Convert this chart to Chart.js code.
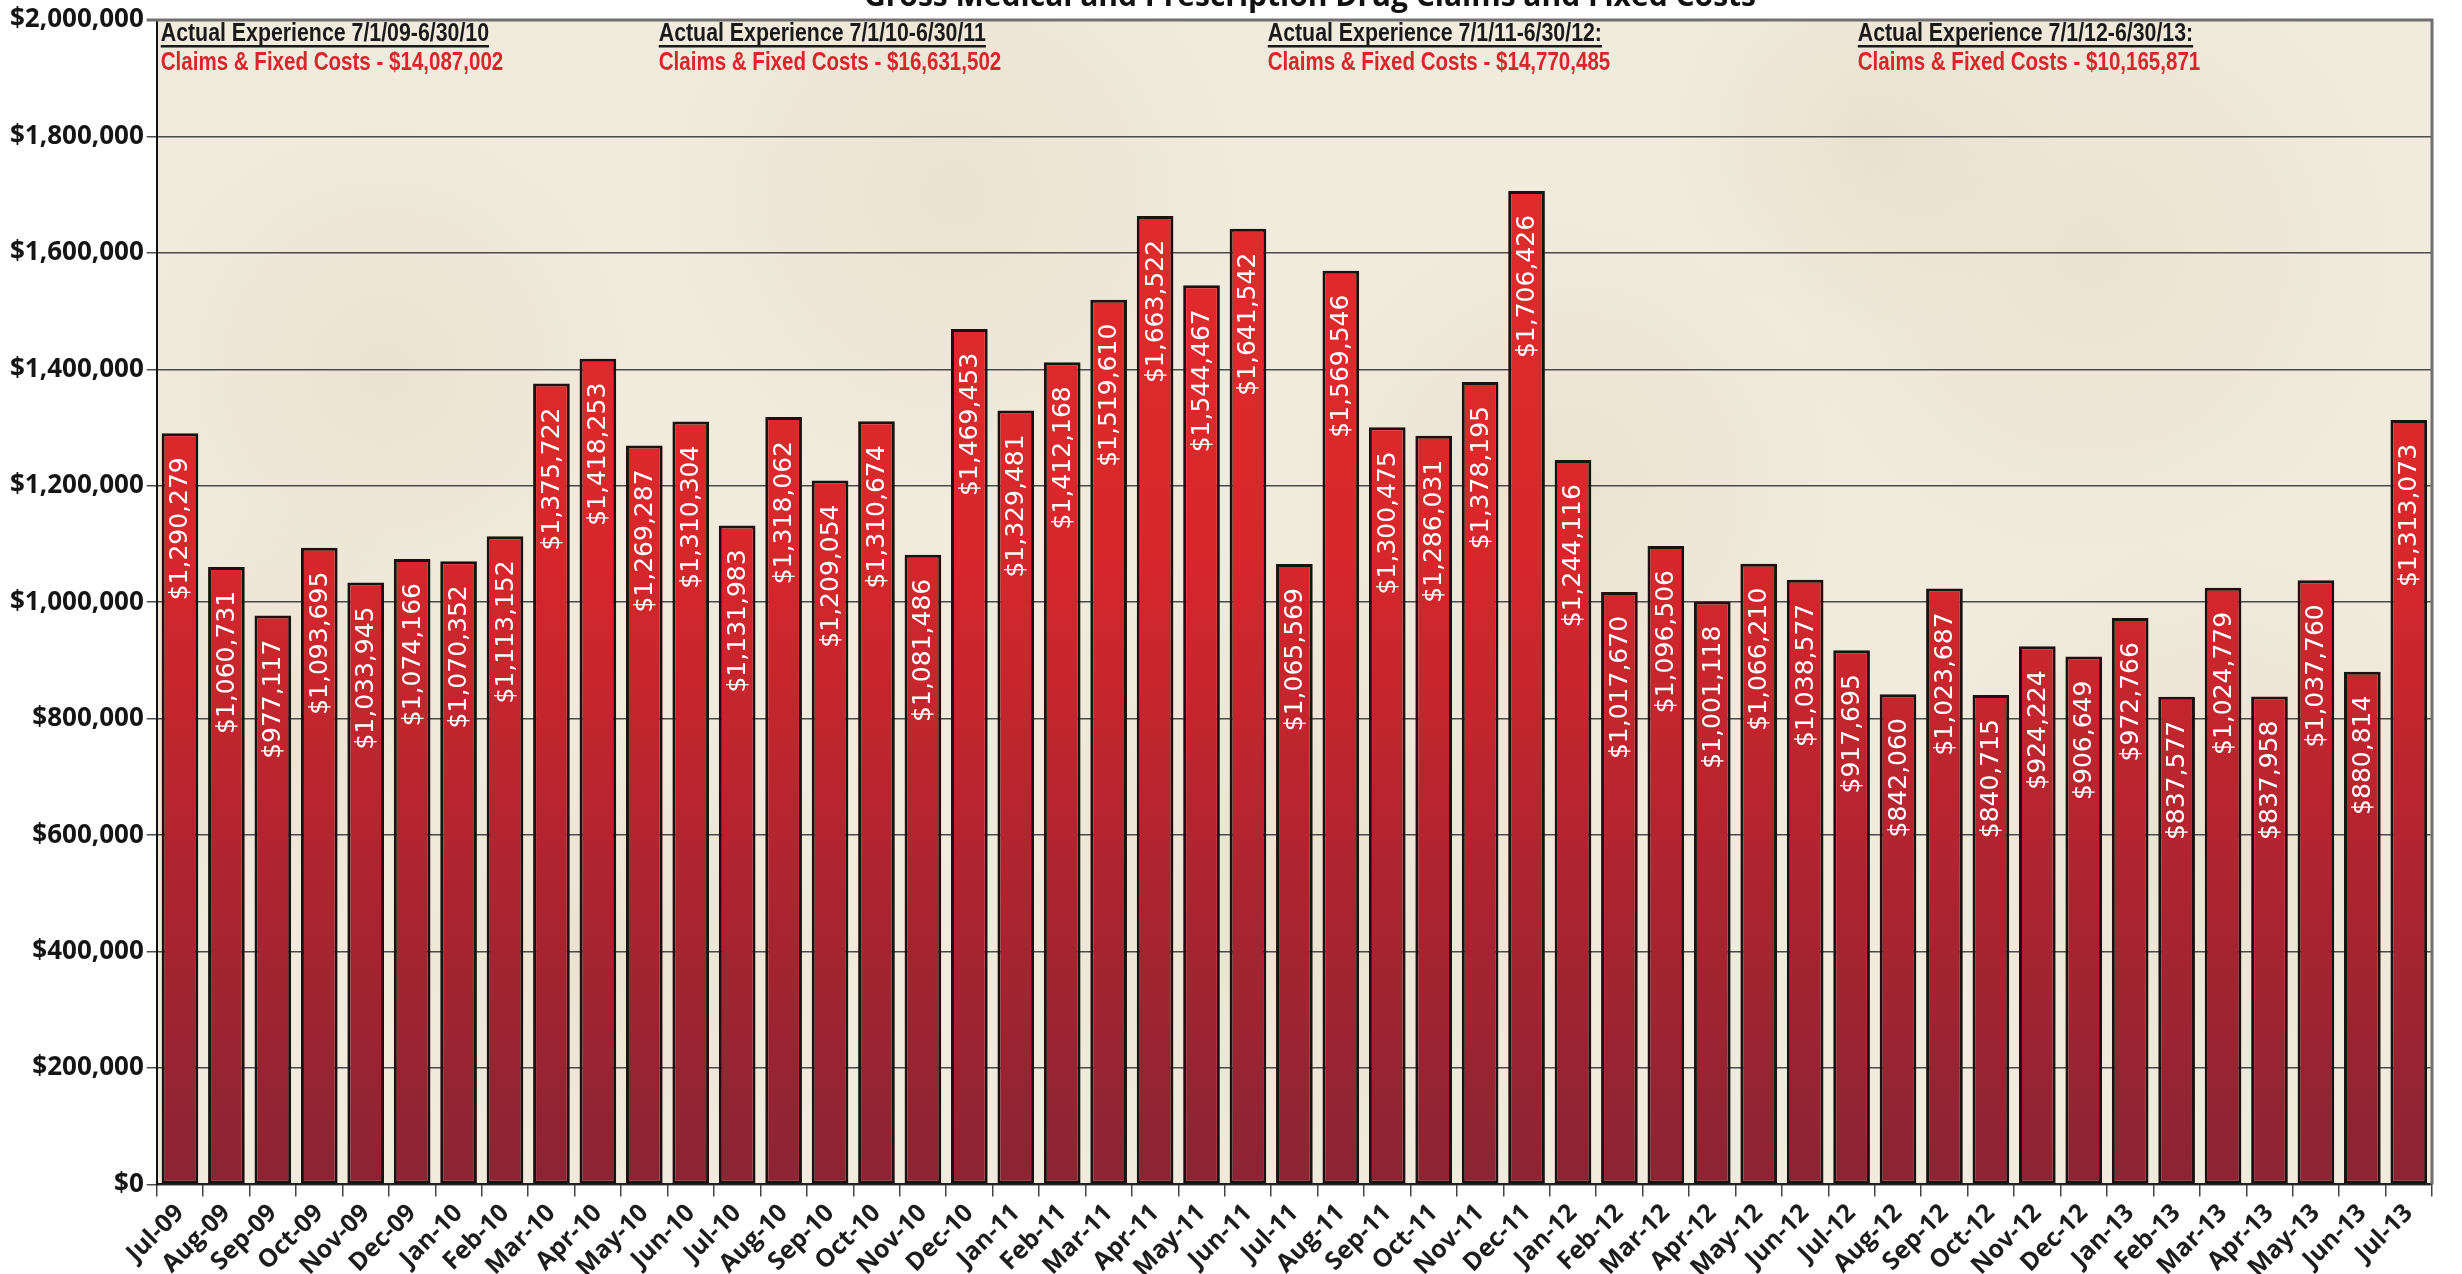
<!DOCTYPE html>
<html>
<head>
<meta charset="utf-8">
<title>Gross Medical and Prescription Drug Claims and Fixed Costs</title>
<script src="https://cdn.jsdelivr.net/npm/chart.js@4.4.1/dist/chart.umd.min.js"></script>
<style>
  html, body { margin: 0; padding: 0; background: #ffffff; }
  #wrap { width: 2462px; height: 1274px; position: relative; }
</style>
</head>
<body>
<div id="wrap"><canvas id="myChart" width="2462" height="1274"></canvas></div>
<script>
var titulo = "Gross Medical and Prescription Drug Claims and Fixed Costs";

var meses = [
  "Jul-09", "Aug-09", "Sep-09", "Oct-09", "Nov-09", "Dec-09", "Jan-10", "Feb-10", "Mar-10", "Apr-10",
  "May-10", "Jun-10", "Jul-10", "Aug-10", "Sep-10", "Oct-10", "Nov-10", "Dec-10", "Jan-11", "Feb-11",
  "Mar-11", "Apr-11", "May-11", "Jun-11", "Jul-11", "Aug-11", "Sep-11", "Oct-11", "Nov-11", "Dec-11",
  "Jan-12", "Feb-12", "Mar-12", "Apr-12", "May-12", "Jun-12", "Jul-12", "Aug-12", "Sep-12", "Oct-12",
  "Nov-12", "Dec-12", "Jan-13", "Feb-13", "Mar-13", "Apr-13", "May-13", "Jun-13", "Jul-13"
];

var custos = [
  1290279, 1060731, 977117, 1093695, 1033945, 1074166, 1070352, 1113152, 1375722, 1418253,
  1269287, 1310304, 1131983, 1318062, 1209054, 1310674, 1081486, 1469453, 1329481, 1412168,
  1519610, 1663522, 1544467, 1641542, 1065569, 1569546, 1300475, 1286031, 1378195, 1706426,
  1244116, 1017670, 1096506, 1001118, 1066210, 1038577, 917695, 842060, 1023687, 840715,
  924224, 906649, 972766, 837577, 1024779, 837958, 1037760, 880814, 1313073
];

var periodos = [
  "Actual Experience 7/1/09-6/30/10",
  "Actual Experience 7/1/10-6/30/11",
  "Actual Experience 7/1/11-6/30/12:",
  "Actual Experience 7/1/12-6/30/13:"
];
var totais = [
  "Claims & Fixed Costs - $14,087,002",
  "Claims & Fixed Costs - $16,631,502",
  "Claims & Fixed Costs - $14,770,485",
  "Claims & Fixed Costs - $10,165,871"
];

var yMin = 0;
var yMax = 2000000;
var yPasso = 200000;

function dinheiro(v) {
  return "$" + Number(v).toLocaleString("en-US");
}

// texto condensado (tipo Arial Narrow)
function textoEstreito(ctx, txt, x, y, escala) {
  ctx.save();
  ctx.translate(x, y);
  ctx.scale(escala, 1);
  ctx.fillText(txt, 0, 0);
  var w = ctx.measureText(txt).width * escala;
  ctx.restore();
  return w;
}

var fundoPlot = {
  id: "fundoPlot",
  beforeDraw: function (chart) {
    var ctx = chart.ctx;
    var a = chart.chartArea;
    ctx.save();
    ctx.fillStyle = "#f1ebdd";
    ctx.fillRect(a.left, a.top, a.right - a.left, a.bottom - a.top);
    // manchas leves do papel
    var manchas = [[0.1, 0.3, 260], [0.35, 0.15, 300], [0.62, 0.4, 280], [0.85, 0.2, 320], [0.5, 0.75, 350], [0.2, 0.8, 250], [0.9, 0.7, 300], [0.75, 0.1, 200], [0.05, 0.6, 220]];
    manchas.forEach(function (m) {
      var cx = a.left + m[0] * (a.right - a.left);
      var cy = a.top + m[1] * (a.bottom - a.top);
      var g = ctx.createRadialGradient(cx, cy, 0, cx, cy, m[2]);
      g.addColorStop(0, "rgba(218,204,176,0.28)");
      g.addColorStop(1, "rgba(218,204,176,0)");
      ctx.fillStyle = g;
      ctx.fillRect(a.left, a.top, a.right - a.left, a.bottom - a.top);
    });
    ctx.restore();
  },
  afterDraw: function (chart) {
    var ctx = chart.ctx;
    var a = chart.chartArea;
    ctx.save();
    // borda superior e direita
    ctx.strokeStyle = "#707070";
    ctx.lineWidth = 3;
    ctx.beginPath();
    ctx.moveTo(a.left - 10, a.top);
    ctx.lineTo(a.right, a.top);
    ctx.lineTo(a.right, a.bottom);
    ctx.stroke();

    // titulo cortado no topo
    ctx.fillStyle = "#111111";
    ctx.font = "bold 30px 'Open Sans', 'Liberation Sans', sans-serif";
    ctx.textAlign = "center";
    ctx.textBaseline = "alphabetic";
    ctx.fillText(titulo, 1310, 6);

    // blocos de texto dos periodos
    var xs = [4, 502, 1111, 1701];
    ctx.textAlign = "left";
    for (var i = 0; i < periodos.length; i++) {
      var x = a.left + xs[i];
      ctx.font = "bold 26px 'Liberation Sans', Arial, sans-serif";
      ctx.fillStyle = "#1a1a1a";
      var w = textoEstreito(ctx, periodos[i], x, a.top + 21, 0.82);
      ctx.fillRect(x, a.top + 25, w, 2.5);
      ctx.fillStyle = "#d8262c";
      textoEstreito(ctx, totais[i], x, a.top + 50, 0.79);
    }
    ctx.restore();
  }
};

var rotulosBarras = {
  id: "rotulosBarras",
  afterDatasetsDraw: function (chart) {
    var ctx = chart.ctx;
    var meta = chart.getDatasetMeta(0);
    ctx.save();
    ctx.fillStyle = "#ffffff";
    ctx.font = "25px 'DejaVu Sans', Verdana, sans-serif";
    ctx.textAlign = "right";
    ctx.textBaseline = "middle";
    meta.data.forEach(function (bar, i) {
      ctx.save();
      ctx.translate(bar.x + 1, bar.y + 24);
      ctx.rotate(-Math.PI / 2);
      ctx.fillText(dinheiro(custos[i]), 0, 0);
      ctx.restore();
    });
    ctx.restore();
  }
};

function gerarGrafico() {
  var data = {
    labels: meses,
    datasets: [
      {
        label: "Claims & Fixed Costs",
        data: custos,
        backgroundColor: function (context) {
          var chart = context.chart;
          var a = chart.chartArea;
          if (!a) return "#c62828";
          var g = chart.ctx.createLinearGradient(0, a.top, 0, a.bottom);
          g.addColorStop(0, "#e52d2c");
          g.addColorStop(0.45, "#d8272b");
          g.addColorStop(0.75, "#ac2430");
          g.addColorStop(1, "#8a2433");
          return g;
        },
        borderColor: "#1c1111",
        borderWidth: 3,
        borderSkipped: false,
        categoryPercentage: 0.79,
        barPercentage: 1.0,
      },
    ],
  };

  var config = {
    type: "bar",
    data: data,
    options: {
      responsive: false,
      animation: false,
      layout: { padding: { left: 7, right: 30, top: 20, bottom: -11 } },
      plugins: {
        legend: { display: false },
        tooltip: { enabled: false },
      },
      scales: {
        x: {
          offset: true,
          grid: {
            display: true,
            offset: true,
            drawOnChartArea: false,
            drawTicks: true,
            tickLength: 12,
            color: "#444444",
            lineWidth: 1.5,
          },
          border: { display: true, color: "#222222", width: 2 },
          ticks: {
            autoSkip: false,
            maxRotation: 45,
            minRotation: 45,
            padding: 2,
            color: "#1d1d1d",
            font: { family: "'Open Sans', 'DejaVu Sans', sans-serif", size: 25, weight: "bold" },
          },
        },
        y: {
          min: yMin,
          max: yMax,
          grid: {
            color: "#4a4a4a",
            lineWidth: 1.5,
            tickLength: 10,
            drawTicks: true,
          },
          border: { display: true, color: "#111111", width: 2 },
          ticks: {
            stepSize: yPasso,
            padding: 3,
            color: "#151515",
            font: { family: "'Open Sans', 'Liberation Sans', sans-serif", size: 26, weight: "bold" },
            callback: function (v) { return dinheiro(v); },
          },
        },
      },
    },
    plugins: [fundoPlot, rotulosBarras],
  };

  var myChart = new Chart(document.getElementById("myChart"), config);
  return myChart;
}

gerarGrafico();
</script>
</body>
</html>
